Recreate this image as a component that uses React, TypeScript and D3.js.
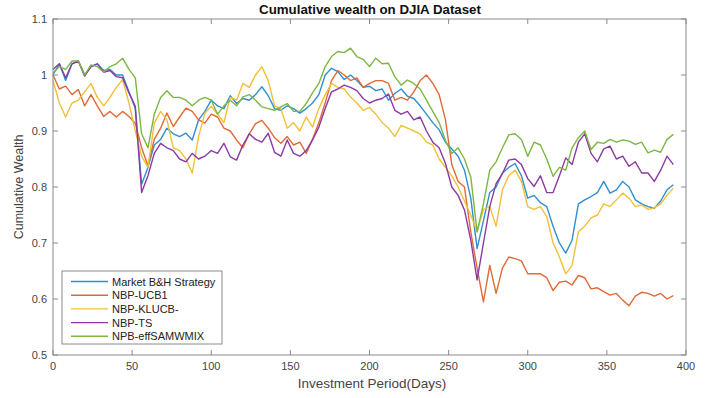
import React from "react";
import * as d3 from "d3";

// Trading day index of each sample (every 4th day of the investment period)
const days: number[] = d3.range(0, 393, 4);

const marketBH: number[] = [
  1.0, 1.02, 0.99, 1.02, 1.025, 1.0, 1.015, 1.02, 1.008, 1.01,
  1.0, 1.0, 0.97, 0.94, 0.805, 0.835, 0.875, 0.885, 0.905, 0.895,
  0.89, 0.896, 0.884, 0.92, 0.935, 0.955, 0.945, 0.94, 0.963, 0.949,
  0.958, 0.955, 0.965, 0.979, 0.963, 0.94, 0.937, 0.945, 0.94, 0.932,
  0.94, 0.95, 0.965, 1.0, 1.012, 1.006, 0.992, 1.0, 0.99, 0.978,
  0.98, 0.972, 0.975, 0.955, 0.967, 0.975, 0.962, 0.958, 0.945, 0.93,
  0.915, 0.902, 0.88, 0.868, 0.855, 0.83, 0.78, 0.69, 0.74, 0.79,
  0.8, 0.825, 0.835, 0.842, 0.82, 0.78, 0.785, 0.772, 0.765, 0.73,
  0.7, 0.682, 0.705, 0.77, 0.777, 0.783, 0.79, 0.81, 0.789, 0.795,
  0.81, 0.8, 0.777, 0.77, 0.765, 0.762, 0.775, 0.795, 0.804,
];

const nbpUCB1: number[] = [
  1.0, 0.975, 0.98, 0.965, 0.974, 0.945, 0.965, 0.945, 0.926, 0.935,
  0.925, 0.935, 0.926, 0.914, 0.87, 0.838, 0.885, 0.905, 0.932, 0.908,
  0.925, 0.941, 0.935, 0.92, 0.914, 0.93, 0.925, 0.905, 0.9, 0.884,
  0.87, 0.895, 0.913, 0.919, 0.905, 0.888, 0.878, 0.89, 0.875, 0.88,
  0.86, 0.885, 0.915, 0.95, 0.99, 1.008, 1.0, 0.99, 0.995, 0.978,
  0.985, 0.99, 0.99, 0.985, 0.955, 0.96, 0.955, 0.97, 0.99, 1.0,
  0.985, 0.965, 0.92, 0.84, 0.81, 0.8, 0.72, 0.655, 0.595, 0.66,
  0.61, 0.655, 0.675, 0.672, 0.668, 0.645, 0.645, 0.645, 0.638, 0.615,
  0.63, 0.632, 0.625, 0.642, 0.638, 0.618, 0.62, 0.613, 0.607, 0.61,
  0.598, 0.588, 0.605, 0.612, 0.61, 0.605, 0.61, 0.6, 0.606,
];

const nbpKLUCB: number[] = [
  0.99, 0.95, 0.925, 0.95, 0.955, 0.97, 0.985, 0.96, 0.945, 0.96,
  0.978, 0.992, 0.95, 0.9, 0.855, 0.835, 0.914, 0.935, 0.92, 0.87,
  0.865, 0.85, 0.825, 0.89, 0.932, 0.944, 0.93, 0.915, 0.96, 0.955,
  0.985, 0.978, 1.0, 1.015, 0.99, 0.945, 0.94, 0.905, 0.915, 0.9,
  0.925, 0.907, 0.94, 0.965, 0.985, 0.978, 0.975, 0.961, 0.95, 0.937,
  0.942, 0.93, 0.915, 0.905, 0.89, 0.91, 0.905, 0.9, 0.895, 0.88,
  0.875, 0.85, 0.835, 0.82, 0.8, 0.775, 0.75, 0.72, 0.76, 0.765,
  0.73, 0.795, 0.82, 0.83, 0.81, 0.765, 0.76, 0.765, 0.747, 0.7,
  0.675, 0.645, 0.66, 0.72, 0.73, 0.745, 0.75, 0.77, 0.765, 0.777,
  0.789, 0.78, 0.765, 0.768, 0.76, 0.763, 0.77, 0.785, 0.798,
];

const nbpTS: number[] = [
  1.01, 1.02, 0.995, 1.02, 1.025, 0.998, 1.015, 1.02, 1.005, 1.008,
  0.997, 0.995, 0.968, 0.944, 0.79, 0.82, 0.86, 0.878, 0.87, 0.865,
  0.85, 0.845, 0.86, 0.85, 0.855, 0.865, 0.86, 0.878, 0.854, 0.848,
  0.875, 0.895, 0.885, 0.88, 0.896, 0.862, 0.855, 0.884, 0.86, 0.855,
  0.865, 0.884, 0.907, 0.94, 0.97, 0.975, 0.982, 0.978, 0.972, 0.958,
  0.95, 0.955, 0.958, 0.966, 0.937, 0.93, 0.935, 0.92, 0.925, 0.9,
  0.88, 0.87, 0.842, 0.8, 0.785, 0.759, 0.705, 0.634, 0.7, 0.765,
  0.806, 0.824, 0.848, 0.85, 0.84, 0.815, 0.801, 0.82, 0.79, 0.79,
  0.82, 0.852, 0.84, 0.88, 0.895, 0.86, 0.845, 0.868, 0.873, 0.85,
  0.855, 0.837, 0.845, 0.825, 0.825, 0.81, 0.83, 0.855, 0.84,
];

const npbEffSAMWMIX: number[] = [
  1.003, 1.015, 1.01, 1.025, 1.025, 1.0, 1.018, 1.015, 1.005, 1.015,
  1.02, 1.03, 1.01, 0.995, 0.895, 0.87, 0.93, 0.96, 0.972, 0.96,
  0.96, 0.955, 0.945, 0.955, 0.96, 0.955, 0.93, 0.945, 0.955, 0.945,
  0.961, 0.965, 0.955, 0.943, 0.94, 0.937, 0.943, 0.949, 0.935, 0.935,
  0.949, 0.968, 0.985, 1.015, 1.033, 1.042, 1.04, 1.048, 1.033, 1.028,
  1.015, 1.03, 1.02, 1.021, 0.997, 0.982, 0.991, 0.985, 0.975, 0.955,
  0.935, 0.915, 0.883, 0.86, 0.87, 0.85, 0.818, 0.72, 0.77, 0.83,
  0.845, 0.87, 0.893, 0.895, 0.885, 0.855, 0.88, 0.875, 0.85, 0.819,
  0.835, 0.83, 0.87, 0.888, 0.9, 0.867, 0.88, 0.878, 0.885, 0.88,
  0.884, 0.882, 0.876, 0.88, 0.861, 0.866, 0.862, 0.885, 0.894,
];

const seriesNames: string[] = [
  "Market B&H Strategy",
  "NBP-UCB1",
  "NBP-KLUCB-",
  "NBP-TS",
  "NPB-effSAMWMIX",
];
const seriesValues: number[][] = [marketBH, nbpUCB1, nbpKLUCB, nbpTS, npbEffSAMWMIX];
const seriesColors: string[] = ["#2f8fd0", "#e06a35", "#f2c038", "#8b3aa3", "#7db643"];

const xTicks: number[] = [0, 50, 100, 150, 200, 250, 300, 350, 400];
const yTicks: number[] = [0.5, 0.6, 0.7, 0.8, 0.9, 1.0, 1.1];

const W = 707;
const H = 398;
const left = 53;
const right = 686;
const top = 19;
const bottom = 355;
const font = "'Liberation Sans', Arial, sans-serif";
const axisColor = "#8a8a8a";
const textColor = "#444";

export default function App() {
  const x = d3.scaleLinear().domain([0, 400]).range([left, right]);
  const y = d3.scaleLinear().domain([0.5, 1.1]).range([bottom, top]);
  const line = d3
    .line<number>()
    .x((_, i) => x(days[i]))
    .y((v) => y(v));

  const tickLen = 5;
  const legendX = 62;
  const legendY = 271;
  const legendW = 160;
  const legendH = 73;
  const rowH = 13.7;

  return (
    <svg
      width={W}
      height={H}
      style={{ position: "absolute", left: 0, top: 0, background: "#fff" }}
    >
      <rect x={0} y={0} width={W} height={H} fill="#fff" />

      {/* series lines */}
      <g fill="none" strokeWidth={1.4} strokeLinejoin="round">
        {seriesValues.map((vals, k) => (
          <path key={k} d={line(vals) ?? ""} stroke={seriesColors[k]} />
        ))}
      </g>

      {/* axes box */}
      <rect
        x={left}
        y={top}
        width={right - left}
        height={bottom - top}
        fill="none"
        stroke={axisColor}
        strokeWidth={1}
      />

      {/* ticks on all four sides, pointing inward */}
      <g stroke={axisColor}>
        {xTicks.map((t) => (
          <g key={t}>
            <line x1={x(t)} x2={x(t)} y1={bottom} y2={bottom - tickLen} />
            <line x1={x(t)} x2={x(t)} y1={top} y2={top + tickLen} />
          </g>
        ))}
        {yTicks.map((t) => (
          <g key={t}>
            <line x1={left} x2={left + tickLen} y1={y(t)} y2={y(t)} />
            <line x1={right} x2={right - tickLen} y1={y(t)} y2={y(t)} />
          </g>
        ))}
      </g>

      <g fontFamily={font} fontSize={11} fill={textColor}>
        {xTicks.map((t) => (
          <text key={t} x={x(t)} y={bottom + 15} textAnchor="middle">
            {t}
          </text>
        ))}
        {yTicks.map((t) => (
          <text key={t} x={left - 6} y={y(t) + 4} textAnchor="end">
            {d3.format("~g")(t)}
          </text>
        ))}
      </g>

      {/* title and axis labels */}
      <text
        x={370}
        y={14}
        textAnchor="middle"
        fontFamily={font}
        fontSize={13.3}
        fontWeight="bold"
        fill="#111"
      >
        Cumulative wealth on DJIA Dataset
      </text>
      <text
        x={372}
        y={388}
        textAnchor="middle"
        fontFamily={font}
        fontSize={13.5}
        fill={textColor}
      >
        Investment Period(Days)
      </text>
      <text
        transform={`translate(23, ${(top + bottom) / 2}) rotate(-90)`}
        textAnchor="middle"
        fontFamily={font}
        fontSize={12.5}
        fill={textColor}
      >
        Cumulative Wealth
      </text>

      {/* legend */}
      <g>
        <rect
          x={legendX}
          y={legendY}
          width={legendW}
          height={legendH}
          fill="#fff"
          stroke={axisColor}
        />
        {seriesNames.map((name, k) => {
          const cy = legendY + 10.5 + k * rowH;
          return (
            <g key={name}>
              <line
                x1={legendX + 9}
                x2={legendX + 46}
                y1={cy}
                y2={cy}
                stroke={seriesColors[k]}
                strokeWidth={1.4}
              />
              <text
                x={legendX + 50}
                y={cy + 4}
                fontFamily={font}
                fontSize={11}
                fill="#222"
              >
                {name}
              </text>
            </g>
          );
        })}
      </g>
    </svg>
  );
}
